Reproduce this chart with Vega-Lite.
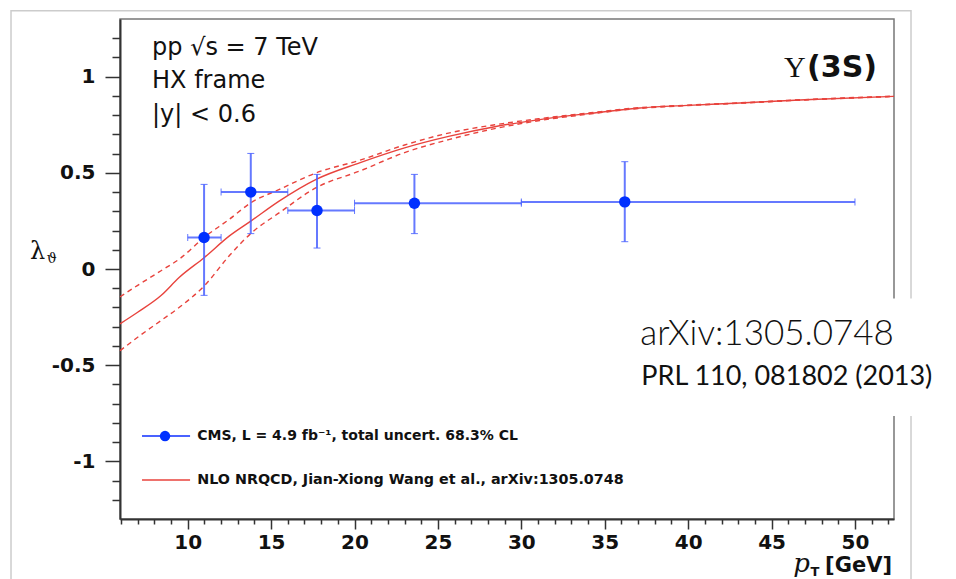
{
  "$schema": "https://vega.github.io/schema/vega-lite/v6.json",
  "width": 774,
  "height": 500,
  "autosize": {"type": "none"},
  "padding": {"left": 120, "top": 19, "right": 62, "bottom": 60},
  "background": "white",
  "config": {
    "view": {"stroke": "#777", "strokeWidth": 1.5},
    "axis": {"title": null, "grid": false}
  },
  "datasets": {
    "one": [{}],
    "pts": [
      {"pt": 10.98, "xlo": 10, "xhi": 12, "lam": 0.164, "ylo": -0.137, "yhi": 0.44},
      {"pt": 13.78, "xlo": 12, "xhi": 16, "lam": 0.40, "ylo": 0.184, "yhi": 0.601},
      {"pt": 17.75, "xlo": 16, "xhi": 20, "lam": 0.304, "ylo": 0.109, "yhi": 0.492},
      {"pt": 23.59, "xlo": 20, "xhi": 30, "lam": 0.342, "ylo": 0.184, "yhi": 0.492},
      {"pt": 36.2, "xlo": 30, "xhi": 50, "lam": 0.349, "ylo": 0.142, "yhi": 0.558}
    ],
    "nlo": [
      {"pt": 5.94, "curve": "central", "lam": -0.285},
      {"pt": 7.0, "curve": "central", "lam": -0.225},
      {"pt": 8.4, "curve": "central", "lam": -0.138},
      {"pt": 9.5, "curve": "central", "lam": -0.043},
      {"pt": 11.0, "curve": "central", "lam": 0.060},
      {"pt": 12.5, "curve": "central", "lam": 0.172},
      {"pt": 13.8, "curve": "central", "lam": 0.250},
      {"pt": 15.5, "curve": "central", "lam": 0.354},
      {"pt": 17.7, "curve": "central", "lam": 0.466},
      {"pt": 20.3, "curve": "central", "lam": 0.552},
      {"pt": 23.0, "curve": "central", "lam": 0.630},
      {"pt": 25.7, "curve": "central", "lam": 0.691},
      {"pt": 28.4, "curve": "central", "lam": 0.740},
      {"pt": 31.1, "curve": "central", "lam": 0.777},
      {"pt": 34.0, "curve": "central", "lam": 0.808},
      {"pt": 37.1, "curve": "central", "lam": 0.837},
      {"pt": 40.0, "curve": "central", "lam": 0.851},
      {"pt": 43.1, "curve": "central", "lam": 0.863},
      {"pt": 47.0, "curve": "central", "lam": 0.880},
      {"pt": 52.34, "curve": "central", "lam": 0.898},
      {"pt": 5.94, "curve": "upper", "lam": -0.145},
      {"pt": 7.0, "curve": "upper", "lam": -0.085},
      {"pt": 8.4, "curve": "upper", "lam": -0.009},
      {"pt": 9.5, "curve": "upper", "lam": 0.052},
      {"pt": 11.0, "curve": "upper", "lam": 0.165},
      {"pt": 12.5, "curve": "upper", "lam": 0.259},
      {"pt": 13.8, "curve": "upper", "lam": 0.345},
      {"pt": 15.5, "curve": "upper", "lam": 0.414},
      {"pt": 17.7, "curve": "upper", "lam": 0.500},
      {"pt": 20.3, "curve": "upper", "lam": 0.565},
      {"pt": 23.0, "curve": "upper", "lam": 0.645},
      {"pt": 25.7, "curve": "upper", "lam": 0.708},
      {"pt": 28.4, "curve": "upper", "lam": 0.750},
      {"pt": 31.1, "curve": "upper", "lam": 0.782},
      {"pt": 34.0, "curve": "upper", "lam": 0.811},
      {"pt": 37.1, "curve": "upper", "lam": 0.839},
      {"pt": 40.0, "curve": "upper", "lam": 0.852},
      {"pt": 43.1, "curve": "upper", "lam": 0.864},
      {"pt": 47.0, "curve": "upper", "lam": 0.881},
      {"pt": 52.34, "curve": "upper", "lam": 0.899},
      {"pt": 5.94, "curve": "lower", "lam": -0.425},
      {"pt": 7.0, "curve": "lower", "lam": -0.355},
      {"pt": 8.4, "curve": "lower", "lam": -0.268},
      {"pt": 9.5, "curve": "lower", "lam": -0.199},
      {"pt": 11.0, "curve": "lower", "lam": -0.087},
      {"pt": 12.5, "curve": "lower", "lam": 0.07},
      {"pt": 13.8, "curve": "lower", "lam": 0.186},
      {"pt": 15.5, "curve": "lower", "lam": 0.293},
      {"pt": 17.7, "curve": "lower", "lam": 0.423},
      {"pt": 20.3, "curve": "lower", "lam": 0.509},
      {"pt": 23.0, "curve": "lower", "lam": 0.605},
      {"pt": 25.7, "curve": "lower", "lam": 0.674},
      {"pt": 28.4, "curve": "lower", "lam": 0.730},
      {"pt": 31.1, "curve": "lower", "lam": 0.772},
      {"pt": 34.0, "curve": "lower", "lam": 0.805},
      {"pt": 37.1, "curve": "lower", "lam": 0.835},
      {"pt": 40.0, "curve": "lower", "lam": 0.850},
      {"pt": 43.1, "curve": "lower", "lam": 0.862},
      {"pt": 47.0, "curve": "lower", "lam": 0.879},
      {"pt": 52.34, "curve": "lower", "lam": 0.897}
    ]
  },
  "data": {"name": "one"},
  "encoding": {
    "x": {
      "type": "quantitative",
      "title": null,
      "scale": {"domain": [5.94, 52.34], "nice": false, "zero": false},
      "axis": {
        "title": null,
        "values": [6,7,8,9,10,11,12,13,14,15,16,17,18,19,20,21,22,23,24,25,26,27,28,29,30,31,32,33,34,35,36,37,38,39,40,41,42,43,44,45,46,47,48,49,50,51,52],
        "labelExpr": "datum.value % 5 == 0 ? '' + datum.value : ''",
        "tickSize": {"condition": {"test": "datum.value % 5 == 0", "value": 10}, "value": 5},
        "tickColor": "#333",
        "tickWidth": 1.5,
        "domainColor": "#333",
        "domainWidth": 2,
        "labelFont": "DejaVu Sans",
        "labelFontWeight": "bold",
        "labelFontSize": 20,
        "labelColor": "#111",
        "labelPadding": 3,
        "labelFlush": false,
        "labelOverlap": false
      }
    },
    "y": {
      "type": "quantitative",
      "title": null,
      "scale": {"domain": [-1.3, 1.3], "nice": false, "zero": false},
      "axis": {
        "title": null,
        "values": [-1.2,-1.1,-1,-0.9,-0.8,-0.7,-0.6,-0.5,-0.4,-0.3,-0.2,-0.1,0,0.1,0.2,0.3,0.4,0.5,0.6,0.7,0.8,0.9,1,1.1,1.2],
        "labelExpr": "abs(datum.value*2 - round(datum.value*2)) < 0.001 ? '' + datum.value : ''",
        "tickSize": {"condition": {"test": "abs(datum.value*2 - round(datum.value*2)) < 0.001", "value": 15}, "value": 8},
        "tickColor": "#333",
        "tickWidth": 1.5,
        "domainColor": "#333",
        "domainWidth": 2,
        "labelFont": "DejaVu Sans",
        "labelFontWeight": "bold",
        "labelFontSize": 20,
        "labelColor": "#111",
        "labelPadding": 10,
        "labelFlush": false,
        "labelOverlap": false
      }
    }
  },
  "layer": [
    {
      "mark": {"type": "rect", "fill": null, "stroke": "#cccccc", "strokeWidth": 1.5, "clip": false},
      "encoding": {"x": {"datum": -0.594}, "x2": {"datum": 53.36}, "y": {"datum": 1.3435}, "y2": {"datum": -1.75}}
    },
    {
      "data": {"name": "nlo"},
      "transform": [{"filter": "datum.curve != 'central'"}],
      "mark": {"type": "line", "color": "#e8433d", "strokeWidth": 1.4, "strokeDash": [5, 4], "interpolate": "monotone"},
      "encoding": {"x": {"field": "pt"}, "y": {"field": "lam"}, "detail": {"field": "curve", "type": "nominal"}}
    },
    {
      "data": {"name": "nlo"},
      "transform": [{"filter": "datum.curve == 'central'"}],
      "mark": {"type": "line", "color": "#e8433d", "strokeWidth": 1.4, "interpolate": "monotone"},
      "encoding": {"x": {"field": "pt"}, "y": {"field": "lam"}}
    },
    {
      "data": {"name": "pts"},
      "mark": {"type": "errorbar", "color": "#4a62ff", "opacity": 0.85, "rule": {"strokeWidth": 2}, "ticks": {"size": 7, "strokeWidth": 1.5}},
      "encoding": {"x": {"field": "pt", "type": "quantitative", "title": null}, "y": {"field": "ylo", "type": "quantitative", "title": null}, "y2": {"field": "yhi"}}
    },
    {
      "data": {"name": "pts"},
      "mark": {"type": "errorbar", "color": "#4a62ff", "opacity": 0.85, "rule": {"strokeWidth": 2}, "ticks": {"size": 7, "strokeWidth": 1.5}},
      "encoding": {"y": {"field": "lam", "type": "quantitative", "title": null}, "x": {"field": "xlo", "type": "quantitative", "title": null}, "x2": {"field": "xhi"}}
    },
    {
      "data": {"name": "pts"},
      "mark": {"type": "point", "shape": "circle", "filled": true, "color": "#0030ff", "opacity": 1, "size": 130},
      "encoding": {"x": {"field": "pt", "type": "quantitative"}, "y": {"field": "lam", "type": "quantitative"}}
    },
    {
      "mark": {"type": "rule", "color": "#4a62ff", "strokeWidth": 2},
      "encoding": {"x": {"datum": 7.26}, "x2": {"datum": 10.14}, "y": {"datum": -0.869}}
    },
    {
      "mark": {"type": "point", "shape": "circle", "filled": true, "color": "#0030ff", "opacity": 1, "size": 110},
      "encoding": {"x": {"datum": 8.64}, "y": {"datum": -0.869}}
    },
    {
      "mark": {"type": "rule", "color": "#e8433d", "strokeWidth": 1.4},
      "encoding": {"x": {"datum": 7.26}, "x2": {"datum": 10.14}, "y": {"datum": -1.097}}
    },
    {
      "mark": {"type": "text", "text": "CMS, L = 4.9 fb⁻¹, total uncert. 68.3% CL", "align": "left", "baseline": "middle", "font": "DejaVu Sans", "fontWeight": "bold", "fontSize": 14, "color": "#111"},
      "encoding": {"x": {"datum": 10.57}, "y": {"datum": -0.869}}
    },
    {
      "mark": {"type": "text", "text": "NLO NRQCD, Jian-Xiong Wang et al., arXiv:1305.0748", "align": "left", "baseline": "middle", "font": "DejaVu Sans", "fontWeight": "bold", "fontSize": 14.3, "color": "#111"},
      "encoding": {"x": {"datum": 10.57}, "y": {"datum": -1.097}}
    },
    {
      "mark": {"type": "text", "text": "pp √s = 7 TeV", "align": "left", "baseline": "middle", "font": "DejaVu Sans", "fontSize": 24, "color": "#111"},
      "encoding": {"x": {"datum": 7.86}, "y": {"datum": 1.147}}
    },
    {
      "mark": {"type": "text", "text": "HX frame", "align": "left", "baseline": "middle", "font": "DejaVu Sans", "fontSize": 24, "color": "#111"},
      "encoding": {"x": {"datum": 7.86}, "y": {"datum": 0.976}}
    },
    {
      "mark": {"type": "text", "text": "|y| < 0.6", "align": "left", "baseline": "middle", "font": "DejaVu Sans", "fontSize": 24, "color": "#111"},
      "encoding": {"x": {"datum": 7.86}, "y": {"datum": 0.80}}
    },
    {
      "mark": {"type": "text", "text": "(3S)", "align": "right", "baseline": "middle", "font": "DejaVu Sans", "fontWeight": "bold", "fontSize": 30, "color": "#111"},
      "encoding": {"x": {"datum": 51.32}, "y": {"datum": 1.043}}
    },
    {
      "mark": {"type": "text", "text": "Υ", "align": "right", "baseline": "middle", "font": "Liberation Serif", "fontSize": 30, "color": "#111"},
      "encoding": {"x": {"datum": 47.05}, "y": {"datum": 1.043}}
    },
    {
      "mark": {"type": "rect", "fill": "white", "stroke": null, "clip": false},
      "encoding": {"x": {"datum": 37.0}, "x2": {"datum": 54.5}, "y": {"datum": -0.154}, "y2": {"datum": -0.765}}
    },
    {
      "mark": {"type": "text", "text": "arXiv:1305.0748", "align": "left", "baseline": "alphabetic", "font": "Lato", "fontWeight": 300, "fontSize": 35, "color": "#111", "clip": false},
      "encoding": {"x": {"datum": 37.13}, "y": {"datum": -0.397}}
    },
    {
      "mark": {"type": "text", "text": "PRL 110, 081802 (2013)", "align": "left", "baseline": "alphabetic", "font": "Lato", "fontSize": 27, "color": "#111", "clip": false},
      "encoding": {"x": {"datum": 37.19}, "y": {"datum": -0.605}}
    },
    {
      "mark": {"type": "text", "text": "[GeV]", "align": "right", "baseline": "alphabetic", "font": "DejaVu Sans", "fontWeight": "bold", "fontSize": 21, "color": "#111"},
      "encoding": {"x": {"datum": 52.22}, "y": {"datum": -1.574}}
    },
    {
      "mark": {"type": "text", "text": "p", "align": "right", "baseline": "alphabetic", "font": "DejaVu Serif", "fontStyle": "italic", "fontSize": 26, "color": "#111"},
      "encoding": {"x": {"datum": 47.3}, "y": {"datum": -1.574}}
    },
    {
      "mark": {"type": "text", "text": "T", "align": "center", "baseline": "alphabetic", "font": "DejaVu Sans", "fontWeight": "bold", "fontSize": 13, "color": "#111"},
      "encoding": {"x": {"datum": 47.6}, "y": {"datum": -1.598}}
    },
    {
      "mark": {"type": "text", "text": "λ", "align": "left", "baseline": "alphabetic", "font": "DejaVu Serif", "fontSize": 24, "color": "#111"},
      "encoding": {"x": {"datum": 0.55}, "y": {"datum": 0.053}}
    },
    {
      "mark": {"type": "text", "text": "ϑ", "align": "left", "baseline": "alphabetic", "font": "DejaVu Serif", "fontSize": 14, "color": "#111"},
      "encoding": {"x": {"datum": 1.55}, "y": {"datum": 0.03}}
    }
  ]
}
